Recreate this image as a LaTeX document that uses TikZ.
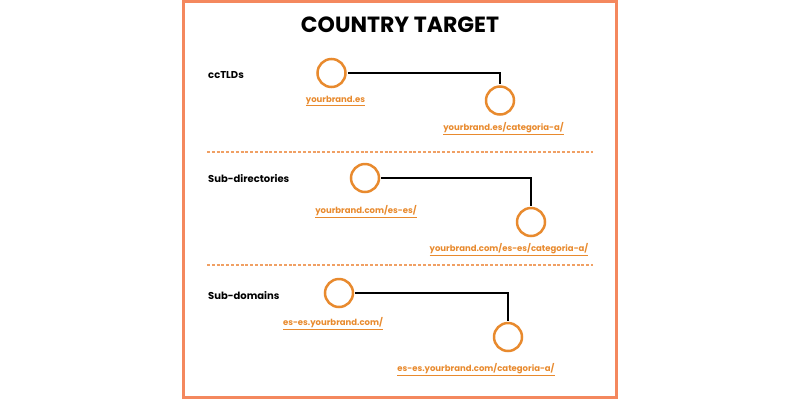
\documentclass[tikz,border=0pt]{standalone}
\usepackage{fontspec}
\setmainfont{Poppins}
\usepackage{tikz}
\definecolor{frameorange}{HTML}{F4885E}
\definecolor{ringorange}{HTML}{E88A2E}
\definecolor{dashorange}{HTML}{F0A064}

\begin{document}
\begin{tikzpicture}[x=1pt, y=-1pt,
    ring/.style={circle, draw=ringorange, line width=2.5pt, minimum size=28pt, inner sep=0pt},
    link/.style={text=ringorange, font=\bfseries\fontsize{8.5}{10}\selectfont, inner sep=0pt},
    kind/.style={anchor=west, font=\bfseries\fontsize{10}{12}\selectfont, inner sep=0pt},
    joint/.style={line width=2pt, shorten <=1.2pt, shorten >=1.2pt},
    divider/.style={dashorange, line width=1.5pt, dash pattern=on 3pt off 1.8pt}]
    \useasboundingbox (0,0) rectangle (800,400);
    \draw[frameorange, line width=3pt] (183.5,1.5) rectangle (616.5,397.5);
    \node[font=\bfseries\fontsize{22}{24}\selectfont] (title) at (400,25) {COUNTRY TARGET};
    % ccTLDs
    \node[kind] (tlds) at (208,75) {ccTLDs};
    \node[ring] (tld) at (331.5,73) {};
    \node[ring] (tldcat) at (500,100.5) {};
    \draw[joint] (tld.east) -| (tldcat.north);
    \node[link] (tldurl) at (335.5,101) {\underline{yourbrand.es}};
    \node[link] (tldcaturl) at (503.5,129) {\underline{yourbrand.es/categoria-a/}};
    \draw[divider] (207,152) -- (593,152);
    % sub-directories
    \node[kind] (dirs) at (208,179) {Sub-directories};
    \node[ring] (dir) at (365,178) {};
    \node[ring] (dircat) at (531,222) {};
    \draw[joint] (dir.east) -| (dircat.north);
    \node[link] (dirurl) at (366,212) {\underline{yourbrand.com/es-es/}};
    \node[link] (dircaturl) at (509,250) {\underline{yourbrand.com/es-es/categoria-a/}};
    \draw[divider] (207,265) -- (593,265);
    % sub-domains
    \node[kind] (subs) at (208,296) {Sub-domains};
    \node[ring] (sub) at (339,293) {};
    \node[ring] (subcat) at (508,337) {};
    \draw[joint] (sub.east) -| (subcat.north);
    \node[link] (suburl) at (333,324) {\underline{es-es.yourbrand.com/}};
    \node[link] (subcaturl) at (476,370) {\underline{es-es.yourbrand.com/categoria-a/}};
\end{tikzpicture}
\end{document}
